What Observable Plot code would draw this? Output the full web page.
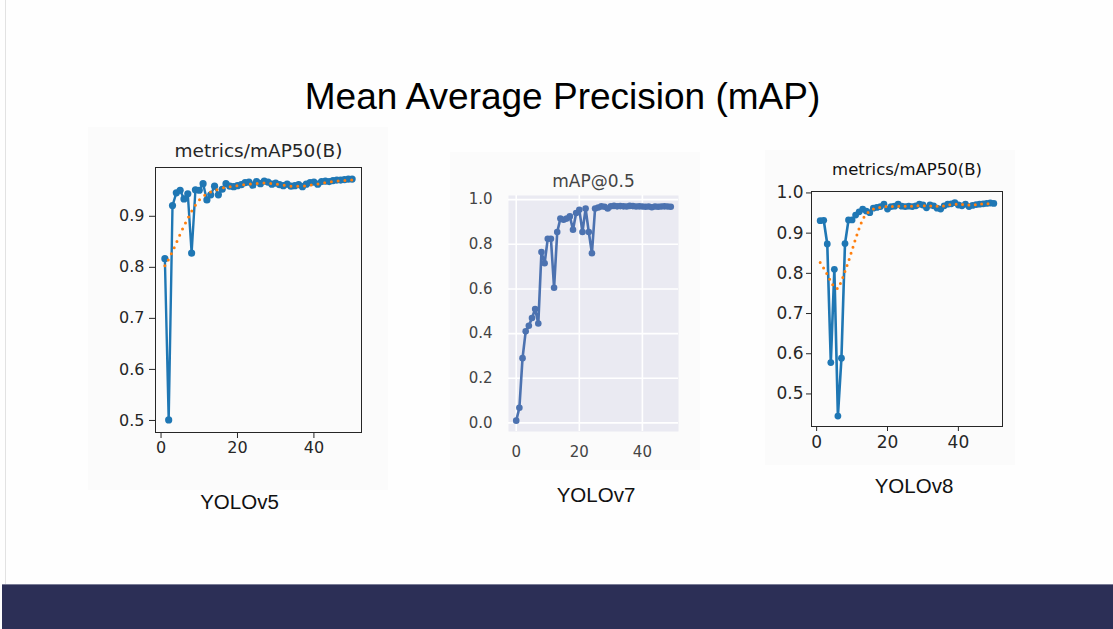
<!DOCTYPE html>
<html><head><meta charset="utf-8">
<script src="https://cdn.jsdelivr.net/npm/d3@7"></script>
<script src="https://cdn.jsdelivr.net/npm/@observablehq/plot@0.6"></script>
<style>
body{margin:0;background:#fefefe;}
#page{position:relative;width:1113px;height:629px;overflow:hidden;background:#fefefe;font-family:"Liberation Sans",Arial,sans-serif;}
.abs{position:absolute;}
.lbl{position:absolute;font-size:20.5px;line-height:20.5px;color:#111;transform:translateX(-50%);white-space:nowrap;}
</style></head><body>
<div id="page">
  <div class="abs" style="left:5px;top:0;width:1px;height:584px;background:#e2e2e2"></div>
  <div class="abs" style="left:88px;top:127px;width:300px;height:363px;background:#fbfbfb"></div>
  <div class="abs" style="left:450px;top:152px;width:250px;height:318px;background:#fbfbfb"></div>
  <div class="abs" style="left:765px;top:150px;width:250px;height:315px;background:#fbfbfb"></div>
  <div class="abs" style="left:0;top:77.7px;width:1125px;text-align:center;font-size:37px;line-height:37px;color:#000;white-space:nowrap">Mean Average Precision (mAP)</div>
  <div id="c1" class="abs" style="left:100px;top:135px;width:280px;height:325px"></div>
  <div id="c2" class="abs" style="left:450px;top:155px;width:250px;height:315px"></div>
  <div id="c3" class="abs" style="left:765px;top:150px;width:250px;height:315px"></div>
  <div class="lbl" style="left:239.5px;top:491.6px">YOLOv5</div>
  <div class="lbl" style="left:596px;top:484.6px">YOLOv7</div>
  <div class="lbl" style="left:914px;top:475.6px">YOLOv8</div>
  <div class="abs" style="left:2px;top:584px;width:1111px;height:45px;background:#2c2f56;border-top:1px solid #7a7c96"></div>
</div>
<script>
// ---- data ----
const epochs1to50 = [1,2,3,4,5,6,7,8,9,10,11,12,13,14,15,16,17,18,19,20,21,22,23,24,25,26,27,28,29,30,31,32,33,34,35,36,37,38,39,40,41,42,43,44,45,46,47,48,49,50];
const epochs0to49 = [0,1,2,3,4,5,6,7,8,9,10,11,12,13,14,15,16,17,18,19,20,21,22,23,24,25,26,27,28,29,30,31,32,33,34,35,36,37,38,39,40,41,42,43,44,45,46,47,48,49];

const v5Map = [0.817,0.501,0.921,0.946,0.951,0.934,0.944,0.828,0.952,0.951,0.964,0.932,0.942,0.959,0.942,0.953,0.964,0.959,0.958,0.960,0.962,0.966,0.967,0.961,0.968,0.964,0.969,0.967,0.963,0.965,0.962,0.960,0.963,0.959,0.960,0.962,0.958,0.963,0.966,0.967,0.963,0.968,0.969,0.968,0.970,0.971,0.971,0.972,0.973,0.973];
const v5Smooth = [0.803,0.816,0.831,0.848,0.865,0.881,0.896,0.910,0.922,0.932,0.939,0.944,0.948,0.951,0.953,0.955,0.957,0.958,0.959,0.960,0.961,0.962,0.963,0.964,0.964,0.965,0.965,0.965,0.964,0.963,0.962,0.961,0.960,0.959,0.959,0.959,0.959,0.960,0.961,0.962,0.963,0.965,0.966,0.967,0.968,0.969,0.970,0.970,0.971,0.971];

const v7Map = [0.010,0.068,0.290,0.410,0.435,0.470,0.510,0.445,0.765,0.715,0.825,0.825,0.605,0.855,0.915,0.910,0.915,0.925,0.865,0.940,0.955,0.855,0.960,0.855,0.760,0.960,0.965,0.970,0.968,0.960,0.970,0.972,0.970,0.971,0.970,0.969,0.972,0.971,0.969,0.970,0.969,0.968,0.969,0.966,0.969,0.968,0.969,0.970,0.969,0.968];

const v8Map = [0.931,0.932,0.873,0.578,0.810,0.445,0.589,0.874,0.933,0.933,0.945,0.953,0.960,0.955,0.951,0.962,0.964,0.966,0.972,0.960,0.966,0.967,0.972,0.967,0.966,0.967,0.966,0.968,0.972,0.970,0.963,0.970,0.968,0.962,0.960,0.968,0.972,0.973,0.976,0.970,0.968,0.972,0.966,0.969,0.971,0.972,0.973,0.974,0.975,0.974];
const v8Smooth = [0.827,0.813,0.797,0.780,0.764,0.762,0.780,0.805,0.830,0.858,0.886,0.912,0.935,0.948,0.955,0.960,0.962,0.964,0.966,0.966,0.966,0.967,0.967,0.967,0.967,0.967,0.967,0.968,0.968,0.968,0.968,0.968,0.967,0.967,0.967,0.968,0.970,0.971,0.972,0.972,0.971,0.971,0.970,0.970,0.971,0.972,0.973,0.973,0.974,0.974];

const title1 = "metrics/mAP50(B)";
const title2 = "mAP@0.5";
const title3 = "metrics/mAP50(B)";
const ticks1Y = [0.5,0.6,0.7,0.8,0.9];
const ticks2Y = [0.0,0.2,0.4,0.6,0.8,1.0];
const ticks3Y = [0.5,0.6,0.7,0.8,0.9,1.0];
const ticksX = [0,20,40];

const t5 = epochs1to50.map((e,i)=>({epoch:e, map:v5Map[i], smooth:v5Smooth[i]}));
const t7 = epochs0to49.map((e,i)=>({epoch:e, map:v7Map[i]}));
const t8 = epochs1to50.map((e,i)=>({epoch:e, map:v8Map[i], smooth:v8Smooth[i]}));

const mplBlue = "#1f77b4", mplOrange = "#ff7f0e", sbBlue = "#4c72b0";

// ---- chart 1: YOLOv5 ----
const c1 = Plot.plot({
  width: 280, height: 325,
  marginLeft: 55, marginRight: 19, marginTop: 32, marginBottom: 28,
  style: {fontFamily: "'DejaVu Sans', sans-serif", fontSize: "16px", color: "#262626", background: "transparent", maxWidth: "none", overflow: "visible"},
  x: {domain: [-1.45, 52.45]},
  y: {domain: [0.4764, 0.9956]},
  marks: [
    Plot.axisX({ticks: ticksX, tickSize: 6, tickPadding: 3, label: null, fontSize: 16}),
    Plot.axisY({ticks: ticks1Y, tickSize: 6, tickPadding: 5, tickFormat: ".1f", label: null, fontSize: 16}),
    Plot.line(t5, {x: "epoch", y: "map", stroke: mplBlue, strokeWidth: 2.4}),
    Plot.dot(t5, {x: "epoch", y: "map", fill: mplBlue, r: 3.6}),
    Plot.line(t5, {x: "epoch", y: "smooth", stroke: mplOrange, strokeWidth: 3, strokeDasharray: "0,6.8", strokeLinecap: "round"}),
    Plot.frame({stroke: "#262626"}),
    Plot.text([title1], {text: d => d, frameAnchor: "top", lineAnchor: "middle", dy: -16, fontSize: 18.5, fill: "#262626"})
  ]
});
document.getElementById("c1").appendChild(c1);

// ---- chart 2: YOLOv7 (seaborn darkgrid) ----
const c2 = Plot.plot({
  width: 250, height: 315,
  marginLeft: 58, marginRight: 22, marginTop: 40, marginBottom: 39,
  style: {fontFamily: "'DejaVu Sans', sans-serif", fontSize: "15px", color: "#444", background: "transparent", maxWidth: "none", overflow: "visible"},
  x: {domain: [-2.45, 51.45]},
  y: {domain: [-0.0385, 1.0185]},
  marks: [
    Plot.frame({fill: "#eaeaf2", stroke: null}),
    Plot.gridX({ticks: ticksX, stroke: "white", strokeOpacity: 1, strokeWidth: 1.6}),
    Plot.gridY({ticks: ticks2Y, stroke: "white", strokeOpacity: 1, strokeWidth: 1.6}),
    Plot.axisX({ticks: ticksX, tickSize: 0, tickPadding: 15, label: null, fontSize: 15}),
    Plot.axisY({ticks: ticks2Y, tickSize: 0, tickPadding: 16, tickFormat: ".1f", label: null, fontSize: 15}),
    Plot.line(t7, {x: "epoch", y: "map", stroke: sbBlue, strokeWidth: 2.6}),
    Plot.dot(t7, {x: "epoch", y: "map", fill: sbBlue, r: 3.3}),
    Plot.text([title2], {text: d => d, frameAnchor: "top", lineAnchor: "middle", dy: -14, fontSize: 17, fill: "#444"})
  ]
});
document.getElementById("c2").appendChild(c2);

// ---- chart 3: YOLOv8 ----
const c3 = Plot.plot({
  width: 250, height: 315,
  marginLeft: 46, marginRight: 13, marginTop: 41, marginBottom: 39,
  style: {fontFamily: "'DejaVu Sans', sans-serif", fontSize: "17px", color: "#262626", background: "transparent", maxWidth: "none", overflow: "visible"},
  x: {domain: [-1.45, 52.45]},
  y: {domain: [0.419, 1.0036]},
  marks: [
    Plot.axisX({ticks: ticksX, tickSize: 5, tickPadding: 4, label: null, fontSize: 17}),
    Plot.axisY({ticks: ticks3Y, tickSize: 5, tickPadding: 3, tickFormat: ".1f", label: null, fontSize: 17}),
    Plot.line(t8, {x: "epoch", y: "map", stroke: mplBlue, strokeWidth: 2.6}),
    Plot.dot(t8, {x: "epoch", y: "map", fill: mplBlue, r: 3.4}),
    Plot.line(t8, {x: "epoch", y: "smooth", stroke: mplOrange, strokeWidth: 3, strokeDasharray: "0,6.4", strokeLinecap: "round"}),
    Plot.frame({stroke: "#262626"}),
    Plot.text([title3], {text: d => d, frameAnchor: "top", lineAnchor: "middle", dy: -22, fontSize: 16.5, fill: "#111"})
  ]
});
document.getElementById("c3").appendChild(c3);
</script>
</body></html>
